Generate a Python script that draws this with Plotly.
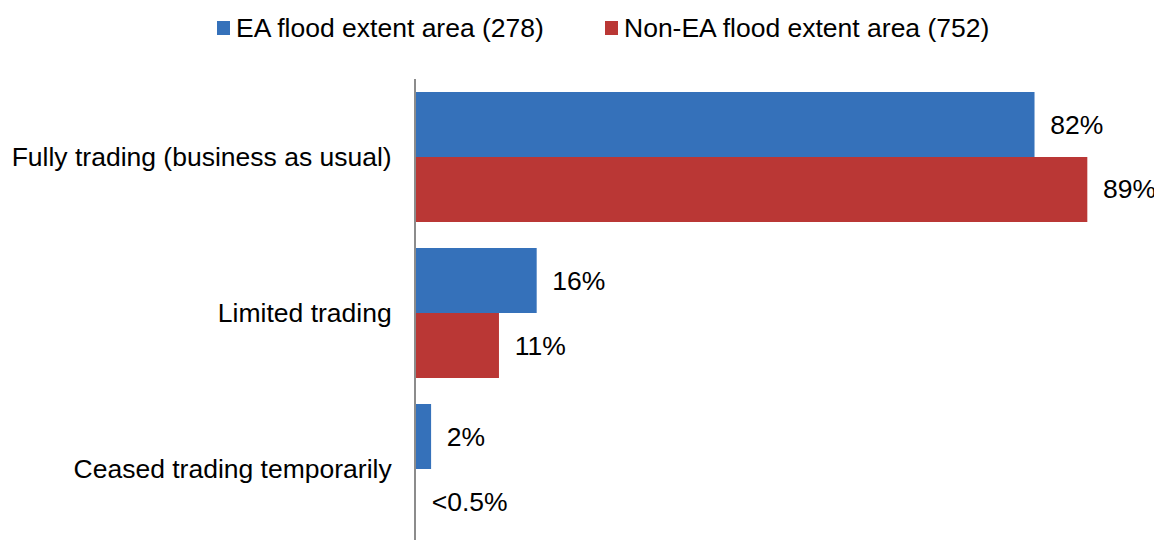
import plotly.graph_objects as go

categories = ["Fully trading (business as usual)", "Limited trading", "Ceased trading temporarily"]
ea_values = [82, 16, 2]
non_ea_values = [89, 11, 0]
ea_labels = ["82%", "16%", "2%"]
non_ea_labels = ["89%", "11%", "<0.5%"]
series_names = ["EA flood extent area (278)", "Non-EA flood extent area (752)"]
series_colors = ["#3571BA", "#BA3735"]

FONT = "Liberation Sans, Arial, sans-serif"
FS = 26.5
pad = "\u00a0\u2009"

# page body has an 8px margin; figure is sized to fit the 1162x540 window
W, H = 1154, 532
ML, MT = 408, 71
PW, PH = W - ML, H - MT


def px_x(x):  # screen px -> paper x
    return (x - 8 - ML) / PW


def px_y(y):  # screen px -> paper y
    return 1 + (MT - (y - 8)) / PH


fig = go.Figure()
for vals, labels, name, col in [(ea_values, ea_labels, series_names[0], series_colors[0]),
                                (non_ea_values, non_ea_labels, series_names[1], series_colors[1])]:
    fig.add_trace(go.Bar(
        y=categories, x=vals, orientation="h", name=name,
        marker=dict(color=col, line=dict(width=0)),
        text=[pad + t for t in labels], textposition="outside",
        textfont=dict(size=FS, color="#000000", family=FONT), cliponaxis=False,
        showlegend=False,
    ))

# legend drawn as squares + text
legend_items = [(217, 230, 234), (605, 618, 622)]
for (sx0, sx1, tx), name, col in zip(legend_items, series_names, series_colors):
    fig.add_shape(type="rect", xref="paper", yref="paper",
                  x0=px_x(sx0), x1=px_x(sx1), y0=px_y(35), y1=px_y(21),
                  fillcolor=col, line=dict(width=0))
    fig.add_annotation(xref="paper", yref="paper", x=px_x(tx), y=px_y(28),
                       xanchor="left", yanchor="middle", showarrow=False,
                       text=name, font=dict(size=FS, family=FONT, color="#000000"))

fig.update_layout(
    width=W, height=H,
    margin=dict(l=ML, r=0, t=MT, b=0),
    paper_bgcolor="white", plot_bgcolor="white",
    barmode="group", bargap=0.167, bargroupgap=0,
    font=dict(family=FONT, size=FS, color="#000000"),
    showlegend=False,
    xaxis=dict(range=[0, 98.9], showgrid=False, showticklabels=False, zeroline=False,
               showline=False, ticks=""),
    yaxis=dict(range=[2.455, -0.5], showgrid=False, showline=True, linecolor="#8C8C8C",
               linewidth=2, ticks="", ticklabelstandoff=17,
               tickfont=dict(size=FS, family=FONT, color="#000000")),
)

fig.write_html("out.html")
